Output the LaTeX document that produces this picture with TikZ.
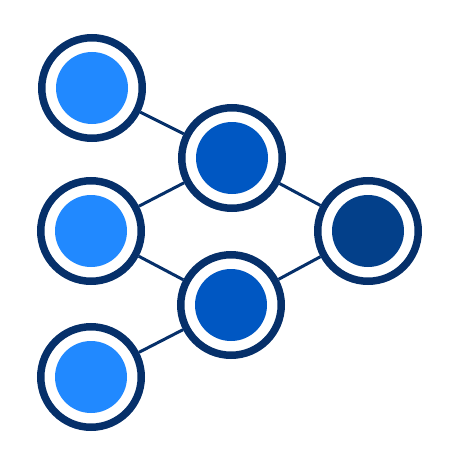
\documentclass[tikz,border=0pt]{standalone}
\usepackage{tikz}
\definecolor{ringnavy}{HTML}{06306A}
\definecolor{inblue}{HTML}{2189FF}
\definecolor{midblue}{HTML}{0057C2}
\definecolor{outblue}{HTML}{03408A}
\tikzset{
  unit/.style={circle, draw=ringnavy, line width=7.5pt, fill=white,
    minimum size=100.5pt, inner sep=0pt,
    path picture={\fill[#1] (path picture bounding box.center) circle (36pt);}},
  link/.style={draw=ringnavy, line width=3pt}
}
\begin{document}
\begin{tikzpicture}[x=1pt,y=-1pt]
    \useasboundingbox (0,0) rectangle (460,460);
    \node[unit=inblue] (a) at (92, 88) {};
    \node[unit=inblue] (b) at (91, 231) {};
    \node[unit=inblue] (c) at (91, 377) {};
    \node[unit=midblue] (d) at (232, 158) {};
    \node[unit=midblue] (e) at (231, 305) {};
    \node[unit=outblue] (f) at (368, 231) {};
    \draw [link] (a) to (d);
    \draw [link] (b) to (d);
    \draw [link] (b) to (e);
    \draw [link] (c) to (e);
    \draw [link] (d) to (f);
    \draw [link] (e) to (f);
  \end{tikzpicture}
\end{document}
